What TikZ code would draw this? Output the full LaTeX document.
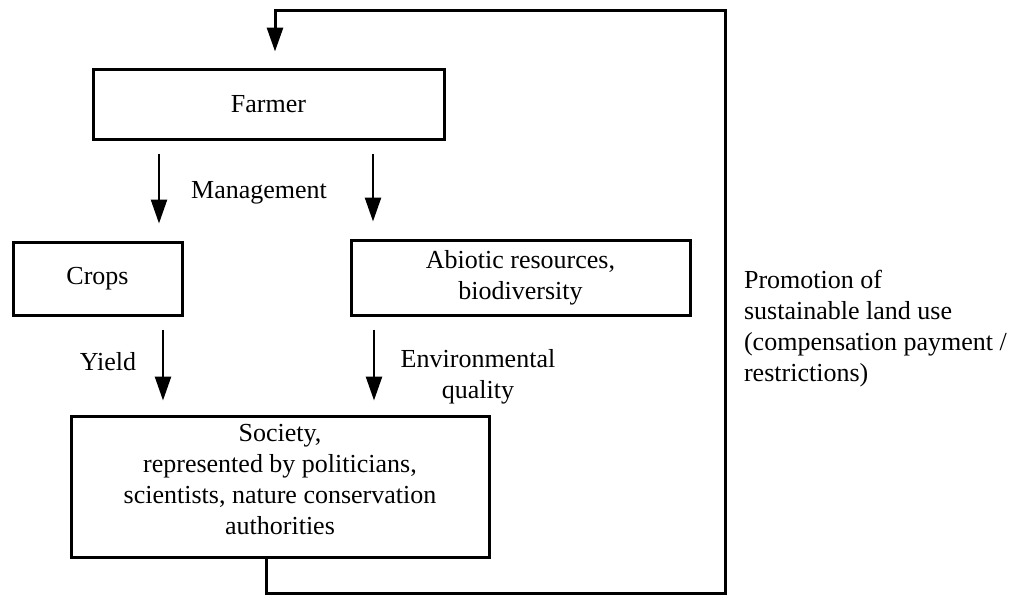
\documentclass[tikz,border=0pt]{standalone}
\usepackage{fontspec}
\setmainfont{Liberation Serif}
\usetikzlibrary{arrows.meta}
\tikzset{>={Triangle[length=12pt,width=8pt]}}
\tikzset{box/.style={draw,line width=1.5pt,rectangle,inner sep=0pt}}
\tikzset{flow/.style={->,line width=1.3pt}}
\tikzset{every node/.style={font=\fontsize{13}{15.5}\selectfont}}

\begin{document}
\begin{tikzpicture}[x=0.5pt,y=-0.5pt]
      \useasboundingbox (0,0) rectangle (1022,595);
      \node[box,minimum width=175.5pt,minimum height=35pt] (farmer) at (268.5,104) {Farmer};
      \node[box,minimum width=84.5pt,minimum height=36.5pt] (crops) at (97.5,278.5) {Crops};
      \node[box,minimum width=169.5pt,minimum height=37.5pt,align=center] (abiotic) at (520.5,277.5) {Abiotic resources,\\ biodiversity};
      \node[box,minimum width=209pt,minimum height=70.5pt] (society) at (280,486.5) {};
      \node[align=center] (societytext) at (280,479.5) {Society,\\ represented by politicians,\\ scientists, nature conservation\\ authorities};
      \node (management) at (259,193) {Management};
      \node (yield) at (108,362) {Yield};
      \node[align=center] (envquality) at (478,377) {Environmental\\ quality};
      \node[align=left,anchor=west] (promotion) at (737,328.5) {Promotion of\\ sustainable land use\\ (compensation payment /\\ restrictions)};
      \coordinate (loopbl) at (266,593);
      \coordinate (loopbr) at (725,593);
      \coordinate (looptr) at (725,10);
      \coordinate (looptl) at (275,10);
      \draw[flow,shorten <=6.5pt,shorten >=8.5pt] (farmer.south -| 159,0) -- (crops.north -| 159,0);
      \draw[flow,shorten <=6.5pt,shorten >=8.5pt] (farmer.south -| 373,0) -- (abiotic.north -| 373,0);
      \draw[flow,shorten <=6.5pt,shorten >=7pt] (crops.south -| 163,0) -- (society.north -| 163,0);
      \draw[flow,shorten <=6.5pt,shorten >=7pt] (abiotic.south -| 374,0) -- (society.north -| 374,0);
      \draw[flow,line width=1.5pt,shorten >=8pt] (society.south -| loopbl) -- (loopbl) -- (loopbr) -- (looptr) -- (looptl) -- (farmer.north -| looptl);
    \end{tikzpicture}
\end{document}
